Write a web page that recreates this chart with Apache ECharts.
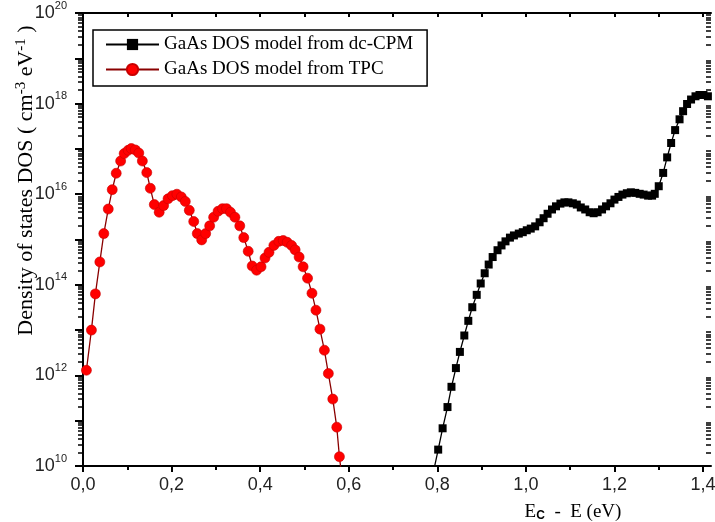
<!DOCTYPE html>
<html>
<head>
<meta charset="utf-8">
<script src="https://cdn.jsdelivr.net/npm/echarts@6/dist/echarts.min.js"></script>
<style>
html,body{margin:0;padding:0;background:#fff;}
#chart{width:715px;height:522px;}
</style>
</head>
<body>
<div id="chart"></div>
<script>
// ---- Data (E_c - E in eV, DOS in cm^-3 eV^-1) ----
const seriesNames = ['GaAs DOS model from dc-CPM', 'GaAs DOS model from TPC'];

const tpcE = [0.0077,0.019,0.028,0.038,0.047,0.057,0.066,0.075,0.085,0.093,0.102,0.109,0.118,0.126,0.134,0.144,0.152,0.161,0.172,0.182,0.192,0.202,0.212,0.222,0.231,0.240,0.250,0.258,0.268,0.277,0.286,0.295,0.305,0.315,0.324,0.333,0.343,0.354,0.363,0.373,0.382,0.392,0.402,0.411,0.420,0.431,0.442,0.452,0.461,0.471,0.479,0.488,0.497,0.507,0.517,0.526,0.535,0.545,0.554,0.564,0.573,0.579,0.588];
const tpcDOS = [1.3e12,1.0e13,6.3e13,3.2e14,1.35e15,4.7e15,1.26e16,2.9e16,5.4e16,7.9e16,9.3e16,1.02e17,9.5e16,8.1e16,5.4e16,3.0e16,1.35e16,5.9e15,4.0e15,5.6e15,7.9e15,9.3e15,1.0e16,8.7e15,6.9e15,4.4e15,2.5e15,1.35e15,9.8e14,1.35e15,2.0e15,3.1e15,4.2e15,4.8e15,4.8e15,4.0e15,3.1e15,2.0e15,1.1e15,5.5e14,2.6e14,2.1e14,2.5e14,3.9e14,5.2e14,7.4e14,9.1e14,9.5e14,8.7e14,7.4e14,5.9e14,4.1e14,2.5e14,1.4e14,6.5e13,2.75e13,1.05e13,3.6e12,1.1e12,3.0e11,7.2e10,1.6e10,3.0e9];

const cpmE = [0.792,0.802,0.812,0.823,0.832,0.842,0.851,0.861,0.870,0.879,0.889,0.898,0.907,0.916,0.925,0.936,0.945,0.954,0.964,0.973,0.984,0.993,1.002,1.011,1.021,1.031,1.040,1.049,1.059,1.068,1.078,1.087,1.096,1.106,1.115,1.124,1.134,1.144,1.153,1.162,1.172,1.181,1.191,1.200,1.209,1.218,1.228,1.237,1.247,1.257,1.266,1.276,1.285,1.291,1.300,1.310,1.319,1.328,1.337,1.347,1.355,1.364,1.373,1.383,1.392,1.401,1.411];
const cpmDOS = [8.0e9,2.3e10,6.8e10,2.0e11,5.6e11,1.45e12,3.3e12,7.6e12,1.6e13,3.2e13,6.0e13,1.07e14,1.8e14,2.8e14,4.1e14,5.8e14,7.4e14,9.1e14,1.1e15,1.23e15,1.35e15,1.45e15,1.6e15,1.74e15,1.95e15,2.4e15,2.95e15,3.7e15,4.6e15,5.4e15,6.2e15,6.6e15,6.6e15,6.3e15,5.9e15,5.1e15,4.6e15,4.0e15,3.8e15,4.0e15,4.6e15,5.4e15,6.3e15,7.6e15,8.7e15,9.8e15,1.05e16,1.1e16,1.07e16,1.02e16,9.8e15,9.3e15,9.3e15,1.02e16,1.5e16,2.95e16,6.5e16,1.35e17,2.6e17,4.5e17,6.8e17,9.8e17,1.23e18,1.45e18,1.55e18,1.55e18,1.45e18];

// ---- Axis tick labels ----
const xTickLabels = [0, 0.2, 0.4, 0.6, 0.8, 1.0, 1.2, 1.4];
const xMinorTicks = [0.1, 0.3, 0.5, 0.7, 0.9, 1.1, 1.3];
const yTickLabels = [1e10, 1e12, 1e14, 1e16, 1e18, 1e20];
const yDecades = [1e10,1e11,1e12,1e13,1e14,1e15,1e16,1e17,1e18,1e19,1e20];

const yMinor = [];
yDecades.slice(0, -1).forEach(d => { for (let k = 2; k <= 9; k++) yMinor.push(k * d); });
const xAllTicks = xTickLabels.concat(xMinorTicks).sort((a, b) => a - b);

const pairs = (xs, ys) => xs.map((x, i) => [x, ys[i]]);

const chart = echarts.init(document.getElementById('chart'), null, {renderer: 'canvas'});
const black = '#000';
const lineCommon = {lineStyle: {color: black, width: 2}};
const grid = {left: 83, top: 13, right: 4, bottom: 56, containLabel: false, outerBoundsMode: 'none'};
const xMin = 0, xMax = 1.418;
const yMin = 1e10, yMax = 1e20;

chart.setOption({
  backgroundColor: '#fff',
  animation: false,
  grid: grid,
  legend: {
    left: 93, top: 30,
    orient: 'vertical',
    backgroundColor: '#fff',
    borderColor: '#000', borderWidth: 1.5, borderRadius: 0,
    padding: [5, 14, 7, 12],
    itemGap: 6, itemWidth: 53, itemHeight: 14,
    textStyle: {fontFamily: 'Liberation Serif', fontSize: 19, lineHeight: 19, color: '#000'},
    data: seriesNames
  },
  xAxis: [
    {
      type: 'value', position: 'bottom', min: xMin, max: xMax,
      axisLine: lineCommon,
      splitLine: {show: false},
      axisTick: {customValues: xTickLabels, length: 6, lineStyle: {color: black, width: 2}},
      axisLabel: {customValues: xTickLabels, margin: 10, fontFamily: 'Liberation Sans', fontSize: 18, color: '#222',
        formatter: v => v.toFixed(1).replace('.', ',')},
      name: 'E{s|C}  -  E (eV)',
      nameLocation: 'middle', nameGap: 36, nameMoveOverlap: false,
      nameTextStyle: {fontFamily: 'Liberation Serif', fontSize: 19, color: '#000', lineHeight: 20,
        padding: [0, 0, 0, 352],
        rich: {s: {fontFamily: 'Liberation Sans', fontWeight: 'bold', fontSize: 12, lineHeight: 14, verticalAlign: 'bottom', color: '#000'}}}
    },
    {
      type: 'value', position: 'bottom', min: xMin, max: xMax,
      axisLine: {show: false}, splitLine: {show: false}, axisLabel: {show: false},
      axisTick: {customValues: xMinorTicks, length: 4, lineStyle: {color: black, width: 2}}
    },
    {
      type: 'value', position: 'top', min: xMin, max: xMax,
      axisLine: lineCommon, splitLine: {show: false}, axisLabel: {show: false},
      axisTick: {inside: true, customValues: xAllTicks, length: 4, lineStyle: {color: black, width: 2}}
    }
  ],
  yAxis: [
    {
      type: 'log', logBase: 10, position: 'left', min: yMin, max: yMax,
      axisLine: lineCommon, splitLine: {show: false},
      axisTick: {customValues: yDecades, length: 8, lineStyle: {color: black, width: 2}},
      axisLabel: {customValues: yTickLabels, margin: 16, color: '#222',
        formatter: v => '{b|10}{s|' + Math.round(Math.log10(v)) + '}',
        rich: {
          b: {fontFamily: 'Liberation Sans', fontSize: 18, lineHeight: 26, color: '#222'},
          s: {fontFamily: 'Liberation Sans', fontSize: 11, lineHeight: 11, verticalAlign: 'top', color: '#222'}
        }},
      name: 'Density of states DOS ( cm{s|-3} eV{s|-1} )',
      nameLocation: 'middle', nameGap: 45, nameMoveOverlap: false,
      nameTextStyle: {fontFamily: 'Liberation Serif', fontSize: 22, color: '#000', lineHeight: 24,
        padding: [0, 0, 0, 118],
        rich: {s: {fontFamily: 'Liberation Serif', fontSize: 15, lineHeight: 15, verticalAlign: 'top', color: '#000'}}}
    },
    {
      type: 'log', logBase: 10, position: 'left', min: yMin, max: yMax,
      axisLine: {show: false}, splitLine: {show: false}, axisLabel: {show: false},
      axisTick: {customValues: yMinor, length: 5, lineStyle: {color: black, width: 1.5}}
    },
    {
      type: 'log', logBase: 10, position: 'right', min: yMin, max: yMax,
      axisLine: lineCommon, splitLine: {show: false}, axisLabel: {show: false},
      axisTick: {inside: true, customValues: yDecades, length: 8, lineStyle: {color: black, width: 2}}
    },
    {
      type: 'log', logBase: 10, position: 'right', min: yMin, max: yMax,
      axisLine: {show: false}, splitLine: {show: false}, axisLabel: {show: false},
      axisTick: {inside: true, customValues: yMinor, length: 5, lineStyle: {color: black, width: 1.5}}
    }
  ],
  series: [
    {
      name: seriesNames[0], type: 'line', xAxisIndex: 0, yAxisIndex: 0,
      data: pairs(cpmE, cpmDOS),
      symbol: 'rect', symbolSize: 8, clip: true,
      itemStyle: {color: '#000'},
      lineStyle: {color: '#000', width: 1.3}
    },
    {
      name: seriesNames[1], type: 'line', xAxisIndex: 0, yAxisIndex: 0,
      data: pairs(tpcE, tpcDOS),
      symbol: 'circle', symbolSize: 10, clip: true,
      itemStyle: {color: '#ff0000', borderColor: '#c80000', borderWidth: 0.6},
      lineStyle: {color: '#8a0000', width: 1.3}
    }
  ]
});
</script>
</body>
</html>
